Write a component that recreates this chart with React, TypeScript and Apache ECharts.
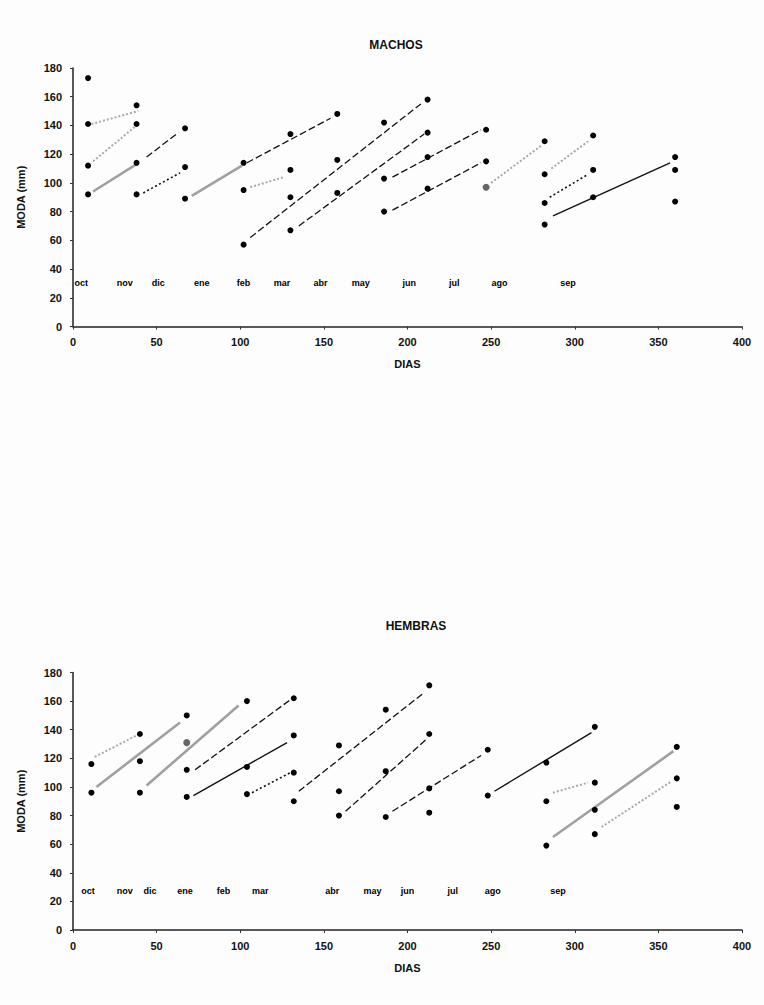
import React, { useEffect, useRef } from "react";
import * as echarts from "echarts";

// ---------- DATA ----------
const yTicks = [0, 20, 40, 60, 80, 100, 120, 140, 160, 180];
const xTicks = [0, 50, 100, 150, 200, 250, 300, 350, 400];

const meses = ["oct", "nov", "dic", "ene", "feb", "mar", "abr", "may", "jun", "jul", "ago", "sep"];
const mesesDiaMachos = [5, 31, 51, 77, 102, 125, 148, 172, 201, 228, 255, 296];
const mesesDiaHembras = [9, 31, 46, 67, 90, 112, 155, 179, 200, 227, 251, 290];
const mesesAlturaMachos = 30;
const mesesAlturaHembras = 27;

// MACHOS points [dia, moda]
const machosPuntos: [number, number][] = [
  [9, 173], [9, 141], [9, 112], [9, 92],
  [38, 154], [38, 141], [38, 114], [38, 92],
  [67, 138], [67, 111], [67, 89],
  [102, 114], [102, 95], [102, 57],
  [130, 134], [130, 109], [130, 90], [130, 67],
  [158, 148], [158, 116], [158, 93],
  [186, 142], [186, 103], [186, 80],
  [212, 158], [212, 135], [212, 118], [212, 96],
  [247, 137], [247, 115],
  [282, 129], [282, 106], [282, 86], [282, 71],
  [311, 133], [311, 109], [311, 90],
  [360, 118], [360, 109], [360, 87],
];
const machosPuntosGris: [number, number][] = [[247, 97]];

// segments: [x1, y1, x2, y2, estilo]
const machosLineas: [number, number, number, number, string][] = [
  [11, 141, 39, 150, "grisPunteada"],
  [12, 115, 38, 140, "grisPunteada"],
  [12, 94, 38, 113, "grisSolida"],
  [44, 118, 63, 135, "negraGuiones"],
  [42, 93, 64, 107, "negraPunteada"],
  [71, 91, 101, 112, "grisSolida"],
  [104, 114, 154, 145, "negraGuiones"],
  [106, 97, 126, 104, "grisPunteada"],
  [106, 62, 208, 155, "negraGuiones"],
  [135, 70, 210, 134, "negraGuiones"],
  [191, 104, 244, 137, "negraGuiones"],
  [191, 81, 244, 114, "negraGuiones"],
  [250, 100, 280, 126, "grisPunteada"],
  [286, 110, 308, 129, "grisPunteada"],
  [285, 90, 308, 106, "negraPunteada"],
  [287, 77, 357, 114, "negraSolida"],
];

// HEMBRAS
const hembrasPuntos: [number, number][] = [
  [11, 116], [11, 96],
  [40, 137], [40, 118], [40, 96],
  [68, 150], [68, 112], [68, 93],
  [104, 160], [104, 114], [104, 95],
  [132, 162], [132, 136], [132, 110], [132, 90],
  [159, 129], [159, 97], [159, 80],
  [187, 154], [187, 111], [187, 79],
  [213, 171], [213, 137], [213, 99], [213, 82],
  [248, 126], [248, 94],
  [283, 117], [283, 90], [283, 59],
  [312, 142], [312, 103], [312, 84], [312, 67],
  [361, 128], [361, 106], [361, 86],
];
const hembrasPuntosGris: [number, number][] = [[68, 131]];

const hembrasLineas: [number, number, number, number, string][] = [
  [13, 121, 38, 136, "grisPunteada"],
  [14, 100, 64, 145, "grisSolida"],
  [44, 101, 99, 157, "grisSolida"],
  [73, 112, 130, 161, "negraGuiones"],
  [72, 94, 128, 131, "negraSolida"],
  [107, 96, 130, 110, "negraPunteada"],
  [135, 97, 210, 166, "negraGuiones"],
  [163, 83, 211, 133, "negraGuiones"],
  [191, 83, 244, 122, "negraGuiones"],
  [252, 97, 310, 138, "negraSolida"],
  [287, 96, 308, 103, "grisPunteada"],
  [287, 65, 359, 125, "grisSolida"],
  [316, 72, 358, 104, "grisPunteada"],
];

// ---------- STYLES ----------
const FONT = "'Liberation Sans', Arial, sans-serif";
const estilos: Record<string, any> = {
  grisPunteada: { color: "#a8a8a8", width: 2, type: [2, 2], opacity: 1 },
  grisSolida: { color: "#a0a0a0", width: 2.6, type: "solid", opacity: 1 },
  negraGuiones: { color: "#111", width: 1.3, type: [7, 3], opacity: 1 },
  negraPunteada: { color: "#111", width: 1.6, type: [2, 2.5], opacity: 1 },
  negraSolida: { color: "#111", width: 1.4, type: "solid", opacity: 1 },
};

function buildSeries(idx: number, puntos: [number, number][], gris: [number, number][], lineas: any[], mesDias: number[], mesAltura: number) {
  const s: any[] = [];
  lineas.forEach((l) => {
    s.push({
      type: "line",
      xAxisIndex: idx,
      yAxisIndex: idx,
      data: [[l[0], l[1]], [l[2], l[3]]],
      symbol: "none",
      lineStyle: estilos[l[4]],
      silent: true,
      z: 2,
    });
  });
  s.push({
    type: "scatter",
    xAxisIndex: idx,
    yAxisIndex: idx,
    data: puntos,
    symbol: "circle",
    symbolSize: 6,
    itemStyle: { color: "#000", opacity: 1 },
    z: 3,
  });
  s.push({
    type: "scatter",
    xAxisIndex: idx,
    yAxisIndex: idx,
    data: gris,
    symbol: "circle",
    symbolSize: 7,
    itemStyle: { color: "#666", opacity: 1 },
    z: 3,
  });
  s.push({
    type: "scatter",
    xAxisIndex: idx,
    yAxisIndex: idx,
    data: meses.map((m, i) => ({ value: [mesDias[i], mesAltura], name: m })),
    symbolSize: 0,
    itemStyle: { opacity: 1 },
    label: {
      show: true,
      position: "inside",
      formatter: (p: any) => p.name,
      fontFamily: FONT,
      fontSize: 9,
      fontWeight: "bold",
      color: "#000",
    },
    silent: true,
    z: 4,
  });
  return s;
}

function axisPair(idx: number) {
  const common = {
    gridIndex: idx,
    axisLine: { show: true, lineStyle: { color: "#222", width: 1.5 } },
    axisTick: { show: true, length: 3, lineStyle: { color: "#333" } },
    splitLine: { show: false },
    axisLabel: { fontFamily: FONT, fontSize: 11, fontWeight: "bold", color: "#111" },
    nameTextStyle: { fontFamily: FONT, fontSize: 11, fontWeight: "bold", color: "#111" },
  };
  return {
    x: {
      ...common,
      type: "value",
      min: xTicks[0],
      max: xTicks[xTicks.length - 1],
      interval: xTicks[1] - xTicks[0],
      name: "DIAS",
      nameLocation: "middle",
      nameGap: 32,
      axisLabel: { ...common.axisLabel, margin: 10 },
    },
    y: {
      ...common,
      type: "value",
      min: yTicks[0],
      max: yTicks[yTicks.length - 1],
      interval: yTicks[1] - yTicks[0],
      name: "MODA (mm)",
      nameLocation: "middle",
      nameGap: 47,
      axisLabel: { ...common.axisLabel, margin: 11 },
    },
  };
}

export default function App() {
  const ref = useRef<HTMLDivElement>(null);
  useEffect(() => {
    if (!ref.current) return;
    const chart = echarts.init(ref.current, undefined, { renderer: "svg" });
    const a0 = axisPair(0);
    const a1 = axisPair(1);
    chart.setOption({
      animation: false,
      backgroundColor: "#fdfdfd",
      title: [
        {
          text: "MACHOS",
          left: 391,
          top: 34,
          textAlign: "center",
          textStyle: { fontFamily: FONT, fontSize: 12, fontWeight: "bold", color: "#111" },
        },
        {
          text: "HEMBRAS",
          left: 411,
          top: 615,
          textAlign: "center",
          textStyle: { fontFamily: FONT, fontSize: 12, fontWeight: "bold", color: "#111" },
        },
      ],
      grid: [
        { left: 73, width: 669, top: 68, height: 258.5 },
        { left: 73, width: 669, top: 672.5, height: 257.5 },
      ],
      xAxis: [a0.x, a1.x],
      yAxis: [a0.y, a1.y],
      series: [
        ...buildSeries(0, machosPuntos, machosPuntosGris, machosLineas, mesesDiaMachos, mesesAlturaMachos),
        ...buildSeries(1, hembrasPuntos, hembrasPuntosGris, hembrasLineas, mesesDiaHembras, mesesAlturaHembras),
      ],
    });
    return () => chart.dispose();
  }, []);
  return (
    <div
      ref={ref}
      style={{ position: "absolute", left: 0, top: 0, width: 764, height: 1005 }}
    />
  );
}
